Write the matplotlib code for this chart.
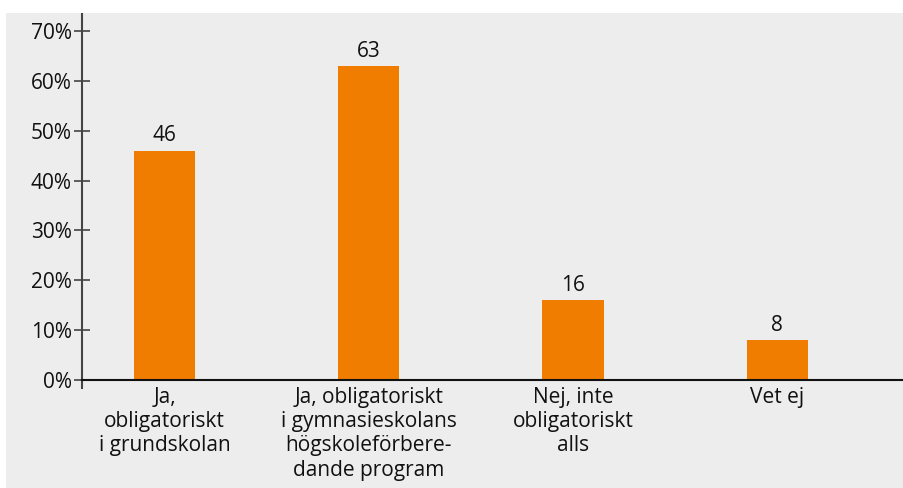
import matplotlib
matplotlib.use("Agg")
import matplotlib.pyplot as plt
from matplotlib.patches import Rectangle

categories = ["Ja,\nobligatoriskt\ni grundskolan",
              "Ja, obligatoriskt\ni gymnasieskolans\nhögskoleförbere-\ndande program",
              "Nej, inte\nobligatoriskt\nalls",
              "Vet ej"]
values = [46, 63, 16, 8]
yticks = [0, 10, 20, 30, 40, 50, 60, 70]

plt.rcParams['font.family'] = ['Open Sans', 'DejaVu Sans']
FS = 15

fig = plt.figure(figsize=(9.04, 4.88), dpi=100)
fig.patch.set_facecolor('white')
bg = Rectangle((6/904, -0.1), 2, (488-13)/488 + 0.1, transform=fig.transFigure,
               facecolor='#ededed', edgecolor='none', linewidth=0, zorder=-10)
fig.patches.append(bg)

ax = fig.add_axes([82/904, (488-388)/488, 1-82/904, (388-14)/488])
ax.set_zorder(1)
ax.set_facecolor('none')
x = list(range(len(values)))
bars = ax.bar(x, values, width=0.3, color='#f07d00', zorder=2)
for xi, v in zip(x, values):
    ax.annotate(str(v), (xi, v), xytext=(0, 3), textcoords='offset points',
                ha='center', va='bottom', fontsize=FS, color='#111111')

ax.set_xlim(-0.404, 3.62)
ax.set_ylim(-1.6, 73.4)
ax.set_yticks(yticks)
ax.set_yticklabels([f"{t}%" for t in yticks])
ax.set_xticks(x)
ax.set_xticklabels(categories, linespacing=1.2)

for s in ['top', 'right']:
    ax.spines[s].set_visible(False)
ax.spines['bottom'].set_position(('data', 0))
ax.spines['bottom'].set_color('#111111')
ax.spines['bottom'].set_linewidth(1.5)
ax.spines['left'].set_color('#444444')
ax.spines['left'].set_linewidth(1.5)

ax.tick_params(axis='y', direction='inout', length=11, width=1.2, color='#444444',
               labelsize=FS, pad=2, labelcolor='#111111')
ax.tick_params(axis='x', length=0, pad=5, labelsize=FS, labelcolor='#111111')
for lab in ax.get_xticklabels():
    lab.set_va('top')

fig.savefig('out.png', dpi=100, facecolor=fig.get_facecolor())
